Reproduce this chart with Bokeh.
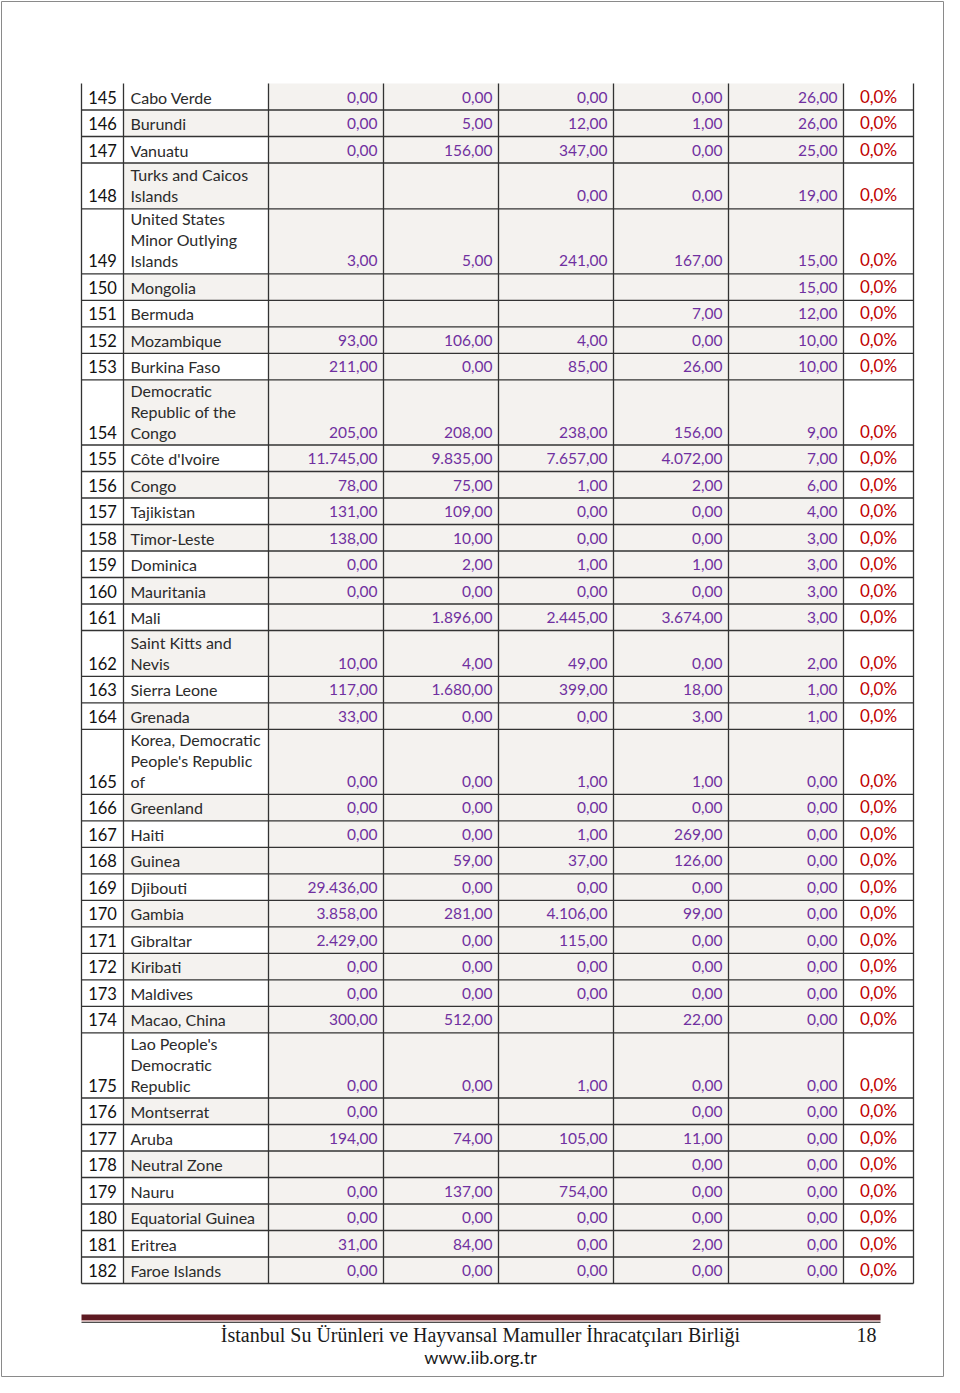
from bokeh.plotting import figure
from bokeh.models import ColumnDataSource, Range1d
from bokeh.core.properties import value
from bokeh.embed import file_html
from bokeh.resources import INLINE

N = None
ranks = list(range(145, 183))
countries = [
    "Cabo Verde", "Burundi", "Vanuatu", "Turks and Caicos|Islands",
    "United States|Minor Outlying|Islands", "Mongolia", "Bermuda", "Mozambique",
    "Burkina Faso", "Democratic|Republic of the|Congo", "Côte d'Ivoire", "Congo",
    "Tajikistan", "Timor-Leste", "Dominica", "Mauritania", "Mali",
    "Saint Kitts and|Nevis", "Sierra Leone", "Grenada",
    "Korea, Democratic|People's Republic|of", "Greenland", "Haiti", "Guinea",
    "Djibouti", "Gambia", "Gibraltar", "Kiribati", "Maldives", "Macao, China",
    "Lao People's|Democratic|Republic", "Montserrat", "Aruba", "Neutral Zone",
    "Nauru", "Equatorial Guinea", "Eritrea", "Faroe Islands",
]
vals_1 = [0, 0, 0, N, 3, N, N, 93, 211, 205, 11745, 78, 131, 138, 0, 0, N, 10, 117, 33,
          0, 0, 0, N, 29436, 3858, 2429, 0, 0, 300, 0, 0, 194, N, 0, 0, 31, 0]
vals_2 = [0, 5, 156, N, 5, N, N, 106, 0, 208, 9835, 75, 109, 10, 2, 0, 1896, 4, 1680, 0,
          0, 0, 0, 59, 0, 281, 0, 0, 0, 512, 0, N, 74, N, 137, 0, 84, 0]
vals_3 = [0, 12, 347, 0, 241, N, N, 4, 85, 238, 7657, 1, 0, 0, 1, 0, 2445, 49, 399, 0,
          1, 0, 1, 37, 0, 4106, 115, 0, 0, N, 1, N, 105, N, 754, 0, 0, 0]
vals_4 = [0, 1, 0, 0, 167, N, 7, 0, 26, 156, 4072, 2, 0, 0, 1, 0, 3674, 0, 18, 3,
          1, 0, 269, 126, 0, 99, 0, 0, 0, 22, 0, 0, 11, 0, 0, 0, 2, 0]
vals_5 = [26, 26, 25, 19, 15, 15, 12, 10, 10, 9, 7, 6, 4, 3, 3, 3, 3, 2, 1, 1,
          0, 0, 0, 0, 0, 0, 0, 0, 0, 0, 0, 0, 0, 0, 0, 0, 0, 0]
shares = [0.0] * 38

footer_title = "İstanbul Su Ürünleri ve Hayvansal Mamuller İhracatçıları Birliği"
footer_url = "www.iib.org.tr"
page_no = "18"


def fmt_num(v):
    if v is None:
        return ""
    s = f"{v:,.2f}"
    return s.replace(",", "X").replace(".", ",").replace("X", ".")


def fmt_pct(v):
    return f"{v:.1f}".replace(".", ",") + "%"


# layout (pixel coordinates of the page)
col_x = [81, 123, 268, 383, 498, 613, 728, 843, 913]
TOP = 83
ROW1 = 26.5
EXTRA = 19.3
LINE = 21
MID = 13

FONT = "Lato"
GREY = "#f4f2ef"
PURPLE = "#7030a0"
RED = "#c00000"
LINEC = "#333333"

W, H = 944, 1377
p = figure(width=W, height=H, output_backend="svg", toolbar_location=None,
           x_range=Range1d(0, W), y_range=Range1d(H, 0),
           min_border=0, outline_line_color=None)
p.axis.visible = False
p.grid.visible = False
p.background_fill_color = "white"

# compute row extents
tops, bottoms = [], []
y = TOP
for c in countries:
    n = len(c.split("|"))
    h = ROW1 + EXTRA * (n - 1)
    tops.append(y)
    bottoms.append(y + h)
    y += h

# backgrounds
bg = dict(left=[], right=[], top=[], bottom=[])
for i, r in enumerate(ranks):
    bg["left"].append(col_x[2]); bg["right"].append(col_x[7])
    bg["top"].append(tops[i]); bg["bottom"].append(bottoms[i])
    if r % 2 == 0:
        bg["left"].append(col_x[1]); bg["right"].append(col_x[2])
        bg["top"].append(tops[i]); bg["bottom"].append(bottoms[i])
p.quad(source=ColumnDataSource(bg), left="left", right="right", top="top",
       bottom="bottom", fill_color=GREY, line_color=None)

# grid lines
hx, hy = [], []
for b in bottoms:
    hx.append([col_x[0], col_x[-1]]); hy.append([b, b])
for cx in col_x:
    hx.append([cx, cx]); hy.append([TOP, bottoms[-1]])
p.multi_line(xs=hx, ys=hy, line_color=LINEC, line_width=1.3)

# rank column
rk = dict(x=[(col_x[0] + col_x[1]) / 2] * len(ranks),
          y=[b - MID for b in bottoms], t=[str(r) for r in ranks])
p.text(source=ColumnDataSource(rk), x="x", y="y", text="t",
       text_font=value(FONT), text_font_size="16.5px", text_color="#111111",
       text_align="center", text_baseline="middle")

# country names
cn = dict(x=[], y=[], t=[])
for i, c in enumerate(countries):
    lines = c.split("|")
    n = len(lines)
    for j, ln in enumerate(lines):
        cn["x"].append(col_x[1] + 7)
        cn["y"].append(bottoms[i] - MID - (n - 1 - j) * LINE)
        cn["t"].append(ln)
p.text(source=ColumnDataSource(cn), x="x", y="y", text="t",
       text_font=value(FONT), text_font_size="16px", text_color="#2b2b2b",
       text_align="left", text_baseline="middle")

# value columns
vd = dict(x=[], y=[], t=[])
for k, series in enumerate([vals_1, vals_2, vals_3, vals_4, vals_5]):
    for i, v in enumerate(series):
        if v is None:
            continue
        vd["x"].append(col_x[3 + k] - 6)
        vd["y"].append(bottoms[i] - MID)
        vd["t"].append(fmt_num(v))
p.text(source=ColumnDataSource(vd), x="x", y="y", text="t",
       text_font=value(FONT), text_font_size="15.5px", text_color=PURPLE,
       text_align="right", text_baseline="middle")

# share column
sd = dict(x=[(col_x[7] + col_x[8]) / 2] * len(shares),
          y=[b - MID - 1 for b in bottoms], t=[fmt_pct(s) for s in shares])
p.text(source=ColumnDataSource(sd), x="x", y="y", text="t",
       text_font=value(FONT), text_font_size="17px", text_color=RED,
       text_align="center", text_baseline="middle")

# footer rule
p.quad(left=[81], right=[880], top=[1314], bottom=[1320],
       fill_color="#5e1a22", line_color=None)
p.quad(left=[81], right=[880], top=[1320], bottom=[1321],
       fill_color="#e8b8b8", line_color=None)
p.segment(x0=[81], y0=[1321.8], x1=[880], y1=[1321.8], line_color="#222222",
          line_width=1)

p.text(x=[480], y=[1334], text=[footer_title], text_font=value("Liberation Serif"),
       text_font_size="20px", text_color="#1a1a1a", text_align="center",
       text_baseline="middle")
p.text(x=[876], y=[1334], text=[page_no], text_font=value("Liberation Serif"),
       text_font_size="20px", text_color="#1a1a1a", text_align="right",
       text_baseline="middle")
p.text(x=[480], y=[1356.5], text=[footer_url], text_font=value(FONT),
       text_font_size="18px", text_color="#1a1a1a", text_align="center",
       text_baseline="middle")

# page border
p.quad(left=[1], right=[W - 1], top=[1], bottom=[H - 1], fill_color=None,
       line_color="#8a8a8a", line_width=1)

open("out.html", "w").write(file_html(p, INLINE))
